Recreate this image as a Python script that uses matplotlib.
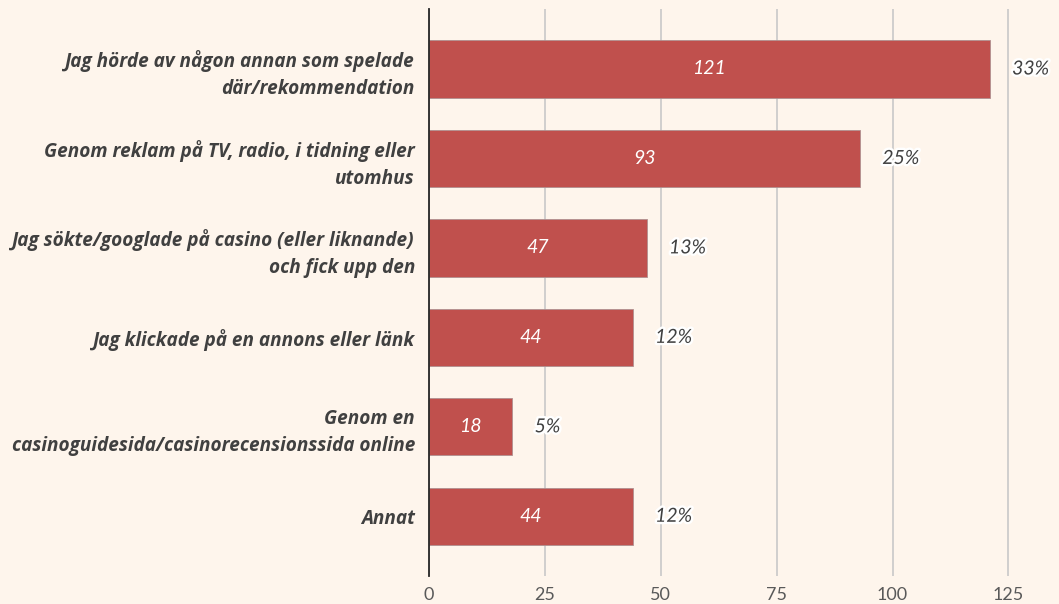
import matplotlib.pyplot as plt
import matplotlib.patheffects as pe

# data
categories = [
    "Jag hörde av någon annan som spelade\ndär/rekommendation",
    "Genom reklam på TV, radio, i tidning eller\nutomhus",
    "Jag sökte/googlade på casino (eller liknande)\noch fick upp den",
    "Jag klickade på en annons eller länk",
    "Genom en\ncasinoguidesida/casinorecensionssida online",
    "Annat",
]
counts = [121, 93, 47, 44, 18, 44]
shares = ["33%", "25%", "13%", "12%", "5%", "12%"]
xticks = [0, 25, 50, 75, 100, 125]

bg = "#FEF5EC"
bar_color = "#C0504D"

fig = plt.figure(figsize=(10.59, 6.04), dpi=100, facecolor=bg)
ax = fig.add_axes([0.405, 0.046, 0.591, 0.939], facecolor=bg)

y = list(range(len(categories)))
ax.barh(y, counts, height=0.64, color=bar_color, edgecolor="#B09090", linewidth=0.6, zorder=3)

for yi, c, s in zip(y, counts, shares):
    ax.text(c / 2, yi, str(c), ha="center", va="center", color="white",
            fontsize=14, fontstyle="italic", family="Lato", zorder=4)
    ax.annotate(s, (c, yi), xytext=(16, 0), textcoords="offset points",
                ha="left", va="center", color="#404040", fontsize=14,
                fontstyle="italic", family="Lato", zorder=4,
                path_effects=[pe.withStroke(linewidth=3.5, foreground="white")])

ax.set_xlim(0, 135)
ax.set_ylim(len(categories) - 0.33, -0.67)
ax.set_xticks(xticks)
ax.set_yticks(y)
ax.set_yticklabels(categories, fontsize=13.7, fontweight="bold", fontstyle="italic",
                   family="Open Sans", color="#404040", ha="right", linespacing=1.45)
ax.tick_params(axis="y", length=0, pad=10)
ax.tick_params(axis="x", length=0, pad=8, labelsize=13, labelcolor="#595959")
for lab in ax.get_xticklabels():
    lab.set_family("Lato")

ax.grid(axis="x", color="#C8C8C8", linewidth=1.2, zorder=0)
for side in ["top", "right", "bottom"]:
    ax.spines[side].set_visible(False)
ax.spines["left"].set_color("#262626")
ax.spines["left"].set_linewidth(1.3)
ax.spines["left"].set_zorder(5)

fig.savefig("out.png", dpi=100, facecolor=bg)
